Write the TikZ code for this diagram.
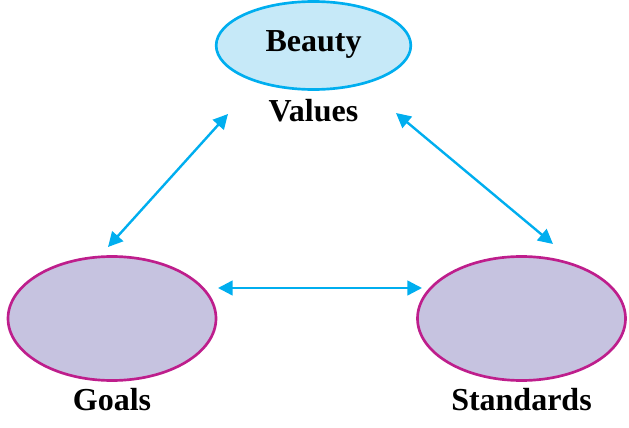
\documentclass[tikz,border=0pt]{standalone}
\usepackage{fontspec}
\setmainfont{Liberation Serif}
\usetikzlibrary{shapes.geometric, positioning, arrows.meta}

\definecolor{cyanline}{HTML}{00AEEF}
\definecolor{skyfill}{HTML}{C6E9F8}
\definecolor{lavfill}{HTML}{C6C3E0}
\definecolor{magline}{HTML}{BE1E8C}

\begin{document}
\begin{tikzpicture}[
            x=0.75pt, y=-0.75pt,
            topoval/.style = {ellipse, draw=cyanline, fill=skyfill, line width=2pt, minimum width=146pt, minimum height=66pt, inner sep=0pt},
            baseoval/.style = {ellipse, draw=magline, fill=lavfill, line width=2pt, minimum width=156pt, minimum height=93pt, inner sep=0pt},
            word/.style = {font=\fontsize{24}{28}\selectfont\bfseries, inner sep=0pt},
            link/.style = {{Triangle[length=11pt,width=11pt]}-{Triangle[length=11pt,width=11pt]}, draw=cyanline, line width=1.8pt},
        ]

            \useasboundingbox (0,0) rectangle (629,428);

            % Ovals
            \node[topoval] (beautyoval) at (313.5,45.5) {};
            \node[baseoval] (goalsoval) at (112,318.5) {};
            \node[baseoval] (stdoval) at (521.5,318.5) {};

            % Labels
            \node[word] (beauty) at (313.5,44) {Beauty};
            \node[word] (values) at (313.5,111) {Values};
            \node[word] (goals) at (112,400) {Goals};
            \node[word] (standards) at (521.5,400) {Standards};

            % Arrow ends
            \coordinate (valL) at (228,114);
            \coordinate (valR) at (396,113);
            \coordinate (goalsT) at (108,247);
            \coordinate (goalsR) at (218,288);
            \coordinate (stdL) at (422,288);
            \coordinate (stdT) at (553,244);

            % Links
            \draw[link] (valL) -- (goalsT);
            \draw[link] (valR) -- (stdT);
            \draw[link] (goalsR) -- (stdL);

        \end{tikzpicture}
\end{document}
